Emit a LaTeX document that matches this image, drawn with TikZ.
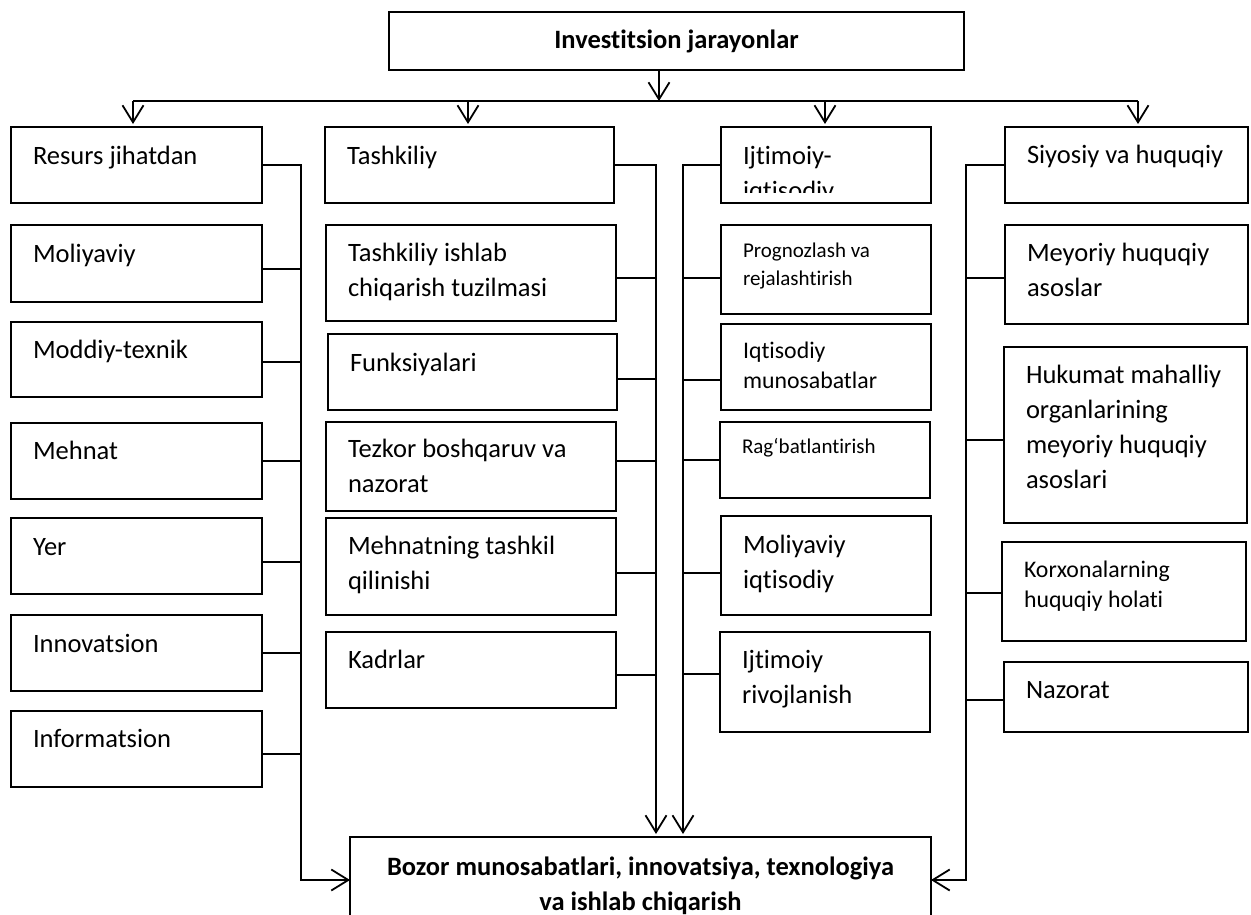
\documentclass[tikz,border=0pt]{standalone}
\usepackage{fontspec}
\setmainfont{Carlito}[Ligatures=NoCommon]
\usetikzlibrary{arrows.meta,calc}
\newcommand\fsA{\fontsize{26.5}{35}\selectfont}
\newcommand\fsB{\fontsize{23.8}{30.5}\selectfont}
\newcommand\fsC{\fontsize{21}{28}\selectfont}
\tikzset{
  bx/.style={draw, rectangle, line width=2.6pt, inner sep=0pt, outer sep=0pt},
  txt/.style={anchor=base west, inner sep=0pt, outer sep=0pt},
  conn/.style={line width=1.8pt},
  arr/.style={-{Straight Barb[length=17pt,width=21pt]}},
}
% name, x1, y1, x2, y2, font, baseline offset, lines
\newcommand\mkbox[8]{%
  \node[bx, minimum width={#4-#2}, minimum height={#5-#3}] (#1) at ({(#2+#4)/2},{(#3+#5)/2}) {};
  \node[txt, font=#6] at ($(#1.north west)+(22,#7)$) {\begin{tabular}[t]{@{}l@{}}#8\end{tabular}};
}
% branch: box, spine coordinate, y
\newcommand\brE[3]{\coordinate (tmp) at (0,#3); \draw[conn] (#1.east |- tmp) -- (#2 |- tmp);}
\newcommand\brW[3]{\coordinate (tmp) at (0,#3); \draw[conn] (#1.west |- tmp) -- (#2 |- tmp);}
\begin{document}
\begin{tikzpicture}[x=1pt,y=-1pt]
\clip (0,0) rectangle (1251,914);
\fill[white] (0,0) rectangle (1251,914);

% top
\node[bx, minimum width=575, minimum height=58, font=\bfseries\fsA] (top) at (676.5,41) {Investitsion jarayonlar};
\coordinate (hub) at (659,101);
\coordinate (a1) at (133,101);
\coordinate (a2) at (468,101);
\coordinate (a3) at (825,101);
\coordinate (a4) at (1138,101);

% left column
\mkbox{L1}{11}{127}{262}{203}{\fsA}{37}{Resurs jihatdan}
\mkbox{L2}{11}{225}{262}{302}{\fsA}{37}{Moliyaviy}
\mkbox{L3}{11}{322}{262}{397}{\fsA}{36}{Moddiy-texnik}
\mkbox{L4}{11}{423}{262}{499}{\fsA}{36}{Mehnat}
\mkbox{L5}{11}{518}{262}{594}{\fsA}{37}{Yer}
\mkbox{L6}{11}{615}{262}{691}{\fsA}{37}{Innovatsion}
\mkbox{L7}{11}{711}{262}{787}{\fsA}{36}{Informatsion}

% middle column
\mkbox{M1}{325}{127}{614}{203}{\fsA}{37}{Tashkiliy}
\mkbox{M2}{326}{225}{616}{321}{\fsA}{36}{Tashkiliy ishlab\\chiqarish tuzilmasi}
\mkbox{M3}{328}{334}{617}{410}{\fsA}{37}{Funksiyalari}
\mkbox{M4}{326}{422}{616}{511}{\fsA}{35}{Tezkor boshqaruv va\\nazorat}
\mkbox{M5}{326}{518}{616}{615}{\fsA}{36}{Mehnatning tashkil\\qilinishi}
\mkbox{M6}{326}{632}{616}{708}{\fsA}{36}{Kadrlar}

% third column
\mkbox{T1}{721}{127}{931}{203}{\fsA}{37}{}
\begin{scope}
\clip (721,127) rectangle (931,192);
\node[txt, font=\fsA] at ($(T1.north west)+(22,37)$) {\begin{tabular}[t]{@{}l@{}}Ijtimoiy-\\iqtisodiy\end{tabular}};
\end{scope}
\mkbox{T2}{721}{225}{931}{314}{\fsC}{32}{Prognozlash va\\rejalashtirish}
\mkbox{T3}{721}{324}{931}{410}{\fsB}{34}{Iqtisodiy\\munosabatlar}
\mkbox{T4}{720}{422}{930}{498}{\fsC}{31}{Rag‘batlantirish}
\mkbox{T5}{721}{516}{931}{615}{\fsA}{37}{Moliyaviy\\iqtisodiy}
\mkbox{T6}{720}{632}{930}{732}{\fsA}{36}{Ijtimoiy\\rivojlanish}

% right column
\mkbox{R1}{1005}{127}{1248}{203}{\fsA}{36}{Siyosiy va huquqiy}
\mkbox{R2}{1005}{225}{1248}{324}{\fsA}{36}{Meyoriy huquqiy\\asoslar}
\mkbox{R3}{1004}{347}{1247}{523}{\fsA}{36}{Hukumat mahalliy\\organlarining\\meyoriy huquqiy\\asoslari}
\mkbox{R4}{1002}{542}{1246}{641}{\fsB}{35}{Korxonalarning\\huquqiy holati}
\mkbox{R5}{1004}{662}{1248}{732}{\fsA}{36}{Nazorat}

% bottom
\node[bx, minimum width=581, minimum height=120] (B) at (640.5,897) {};
\node[anchor=base, inner sep=0pt, font=\bfseries\fsA] at ($(B.north)+(0,38)$) {\begin{tabular}[t]{@{}c@{}}Bozor munosabatlari, innovatsiya, texnologiya\\va ishlab chiqarish\end{tabular}};

% top connectors
\draw[conn,arr] (top.south -| hub) -- (hub);
\draw[conn] (a1) -- (a4);
\draw[conn,arr] (a1) -- ($(L1.north -| a1)+(0,-3)$);
\draw[conn,arr] (a2) -- ($(M1.north -| a2)+(0,-3)$);
\draw[conn,arr] (a3) -- ($(T1.north -| a3)+(0,-3)$);
\draw[conn,arr] (a4) -- ($(R1.north -| a4)+(0,-3)$);

% left spine
\coordinate (sL) at (301,880);
\draw[conn,arr] (L1.east) -| (sL) -- (sL -| B.west);
\brE{L2}{sL}{269}
\brE{L3}{sL}{362}
\brE{L4}{sL}{461}
\brE{L5}{sL}{562}
\brE{L6}{sL}{653}
\brE{L7}{sL}{754}

% middle spine
\coordinate (sM) at (656,834);
\draw[conn,arr] (M1.east) -| (sM);
\brE{M2}{sM}{278}
\brE{M3}{sM}{379}
\brE{M4}{sM}{461}
\brE{M5}{sM}{573}
\brE{M6}{sM}{675}

% third spine
\coordinate (sT) at (683,834);
\draw[conn,arr] (T1.west) -| (sT);
\brW{T2}{sT}{278}
\brW{T3}{sT}{380}
\brW{T4}{sT}{460}
\brW{T5}{sT}{573}
\brW{T6}{sT}{674}

% right spine
\coordinate (sR) at (966,880);
\draw[conn,arr] (R1.west) -| (sR) -- (sR -| B.east);
\brW{R2}{sR}{278}
\brW{R3}{sR}{440}
\brW{R4}{sR}{593}
\brW{R5}{sR}{700}
\end{tikzpicture}
\end{document}
